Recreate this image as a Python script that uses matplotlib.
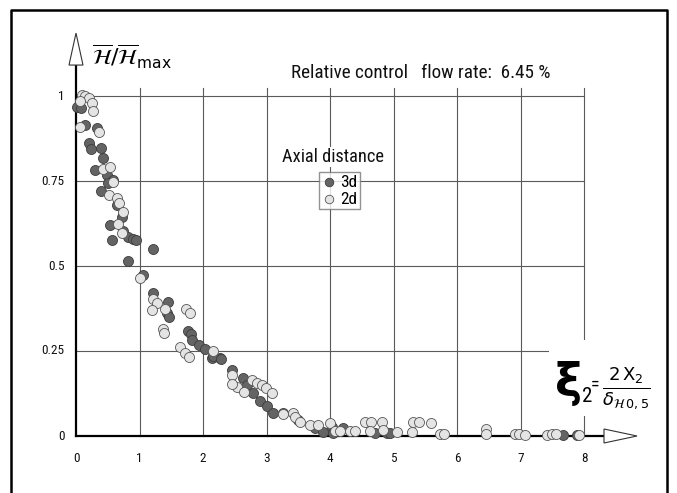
import matplotlib
matplotlib.use("Agg")
import matplotlib.pyplot as plt
from matplotlib.patches import Polygon, Rectangle
from matplotlib import font_manager

names = {f.name for f in font_manager.fontManager.ttflist}
narrow = [n for n in ['Liberation Sans Narrow', 'Arial Narrow', 'Roboto Condensed',
                      'Open Sans Condensed'] if n in names]
plt.rcParams['font.family'] = narrow + ['Liberation Sans', 'DejaVu Sans']

# ---- data ----
x_3d = [0.02, 0.08, 0.14, 0.33, 0.20, 0.24, 0.39, 0.43, 0.30, 0.49, 0.58, 0.50, 0.39,
        0.65, 0.72, 0.54, 0.74, 0.82, 0.90, 0.94, 0.57, 1.21, 0.82, 1.06, 1.21, 1.45,
        1.43, 1.46, 1.76, 1.81, 1.83, 1.94, 2.03, 2.14, 2.27, 2.16, 2.28, 2.46, 2.63,
        2.69, 2.79, 2.90, 3.01, 3.10, 3.26, 3.50, 3.76, 3.89, 4.03, 4.05, 4.20, 4.71,
        4.90, 4.94, 7.67, 7.89]
y_3d = [0.968, 0.965, 0.915, 0.906, 0.862, 0.844, 0.847, 0.818, 0.782, 0.768, 0.753,
        0.744, 0.721, 0.679, 0.644, 0.621, 0.603, 0.585, 0.579, 0.576, 0.576, 0.550,
        0.515, 0.474, 0.421, 0.394, 0.362, 0.350, 0.309, 0.300, 0.282, 0.268, 0.256,
        0.229, 0.229, 0.235, 0.226, 0.194, 0.171, 0.150, 0.126, 0.103, 0.088, 0.068,
        0.068, 0.047, 0.024, 0.012, 0.026, 0.009, 0.024, 0.009, 0.009, 0.009, 0.003,
        0.003]

x_2d = [0.09, 0.14, 0.20, 0.25, 0.27, 0.06, 0.06, 0.36, 0.43, 0.54, 0.58, 0.52, 0.65,
        0.68, 0.74, 0.66, 0.72, 1.01, 1.21, 1.28, 1.40, 1.20, 1.73, 1.80, 1.37, 1.39,
        2.16, 1.64, 1.72, 1.78, 2.46, 2.54, 2.65, 2.46, 2.77, 2.85, 2.93, 2.99, 3.09,
        3.26, 3.42, 3.45, 3.53, 3.69, 3.81, 4.00, 4.08, 4.16, 4.31, 4.39, 4.55, 4.65,
        4.82, 4.63, 4.83, 5.06, 5.31, 5.40, 5.59, 5.29, 5.73, 5.80, 6.46, 6.46, 6.91,
        6.98, 7.07, 7.42, 7.50, 7.56, 7.92]
y_2d = [1.003, 1.000, 0.994, 0.979, 0.956, 0.985, 0.909, 0.894, 0.785, 0.791, 0.747,
        0.709, 0.700, 0.685, 0.659, 0.624, 0.597, 0.465, 0.403, 0.391, 0.374, 0.371,
        0.374, 0.362, 0.315, 0.303, 0.250, 0.262, 0.244, 0.232, 0.179, 0.144, 0.129,
        0.153, 0.165, 0.156, 0.150, 0.141, 0.126, 0.065, 0.068, 0.056, 0.041, 0.032,
        0.032, 0.038, 0.015, 0.015, 0.015, 0.015, 0.041, 0.041, 0.041, 0.015, 0.018,
        0.012, 0.041, 0.041, 0.038, 0.012, 0.006, 0.006, 0.021, 0.006, 0.006, 0.006,
        0.003, 0.003, 0.006, 0.006, 0.003]

x_ticks = [0, 1, 2, 3, 4, 5, 6, 7, 8]
y_ticks = [0, 0.25, 0.5, 0.75, 1]
y_tick_labels = ['0', '0.25', '0.5', '0.75', '1']
series_labels = ['3d', '2d']
title_text = 'Relative control   flow rate:  6.45 %'
legend_title = 'Axial distance'

W, H = 677, 493
fig = plt.figure(figsize=(W / 100, H / 100), dpi=100)
ax = fig.add_axes([0, 0, 1, 1])
# pixel mapping: x=0 -> px 76, 63.5 px/unit ; y=0 -> py 436, 340 px/unit
sx, sy = 63.5, 340.0
x0p, y0p = 76.0, 436.0
ax.set_xlim(-x0p / sx, (W - x0p) / sx)
ax.set_ylim((y0p - H) / sy, y0p / sy)
ax.axis('off')


def px(xp):
    return (xp - x0p) / sx


def py(yp):
    return (y0p - yp) / sy


# frame
fl, fr, ft = 11 / W, 667 / W, 1 - 10 / H
ax.plot([fl, fl, fr, fr], [-0.05, ft, ft, -0.05], transform=ax.transAxes,
        color='black', lw=1.8, clip_on=False, zorder=1)

grid_c = '#5a5a5a'
top_ext = 1.024
for xv in x_ticks[1:]:
    ax.plot([xv, xv], [0, top_ext], color=grid_c, lw=0.8, zorder=1)
for yv in y_ticks[1:]:
    ax.plot([0, 8], [yv, yv], color=grid_c, lw=0.8, zorder=1)

# axes lines
ax.plot([0, 0], [0, 1.091], color='black', lw=1.6, zorder=2)
ax.plot([0, 8.32], [0, 0], color='black', lw=1.6, zorder=2)
ax.add_patch(Polygon([[-7 / sx, 1.091], [7 / sx, 1.091], [0, 1.185]], closed=True,
                     facecolor='white', edgecolor='#333333', lw=0.8, zorder=3))
ax.add_patch(Polygon([[8.315, -7 / sy], [8.315, 7 / sy], [8.835, 0]], closed=True,
                     facecolor='white', edgecolor='#333333', lw=0.8, zorder=3))

# tick labels
for xv in x_ticks:
    ax.text(xv, py(459), str(xv), ha='center', va='center', fontsize=9.5, color='#111111')
for yv, lab in zip(y_ticks, y_tick_labels):
    ax.text(px(64.5), yv, lab, ha='right', va='center', fontsize=9.5, color='#111111')

# data
ms = 52
ax.scatter(x_3d, y_3d, s=ms, c='#646464', edgecolors='#3c3c3c', linewidths=0.6,
           zorder=5, clip_on=False, label=series_labels[0])
ax.scatter(x_2d, y_2d, s=ms, c='#e4e4e4', edgecolors='#555555', linewidths=0.6,
           zorder=5, clip_on=False, label=series_labels[1])

# title text
ax.text(px(421), py(73), title_text, ha='center', va='center',
        fontsize=13.8, color='#111111')

# legend title with white box
ax.text(px(333), py(157), legend_title, ha='center', va='center',
        fontsize=13.2, color='#111111', zorder=6,
        bbox=dict(facecolor='white', edgecolor='none', pad=1))
leg = ax.legend(loc='upper left', bbox_to_anchor=(319 / W, 1 - 172 / H), frameon=True,
                fontsize=12.5, handletextpad=0.15, borderpad=0.15, labelspacing=0.1,
                handlelength=0.9, borderaxespad=0, markerscale=0.85)
leg.get_frame().set_edgecolor('#777777')
leg.get_frame().set_linewidth(1.0)
leg.get_frame().set_boxstyle('square', pad=0)
leg.set_zorder(7)

# y label
ax.text(px(92), py(57),
        r'$\overline{\mathcal{H}}/\overline{\mathcal{H}}_{\mathrm{max}}$',
        ha='left', va='center', fontsize=16, color='black')

# x label (xi) with white background
ax.add_patch(Rectangle((px(549), py(416)), (652 - 549) / sx, (416 - 340) / sy,
                       facecolor='white', edgecolor='none', zorder=4))
ax.text(px(567), py(383), r'$\mathbf{\xi}$', ha='center', va='center',
        fontsize=33, color='black', zorder=6)
ax.text(px(582), py(397), '2', ha='left', va='center', fontsize=15,
        color='black', zorder=6)
ax.text(px(591), py(385), '=', ha='left', va='center', fontsize=13,
        color='black', zorder=6)
ax.text(px(626), py(388), r'$\frac{2\,\mathrm{X}_2}{\delta_{\mathcal{H}\,0,5}}$',
        ha='center', va='center', fontsize=18.5, color='black', zorder=6)

fig.savefig('out.png', dpi=100, facecolor='white')
